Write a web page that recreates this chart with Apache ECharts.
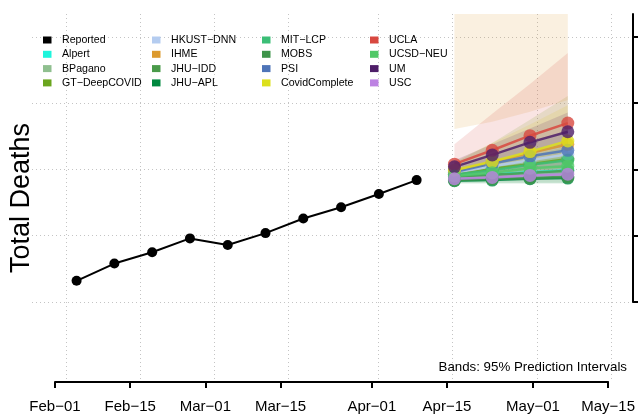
<!DOCTYPE html>
<html><head><meta charset="utf-8">
<script src="https://cdn.jsdelivr.net/npm/echarts@6/dist/echarts.min.js"></script>
<style>html,body{margin:0;padding:0;background:#fff}#c{width:638px;height:418px}</style>
</head><body><div id="c"></div>
<script>
// ---------- data ----------
const reportedDates = ['2022-02-05','2022-02-12','2022-02-19','2022-02-26','2022-03-05','2022-03-12','2022-03-19','2022-03-26','2022-04-02','2022-04-09'];
const reportedValues = [232, 258, 275, 296, 286, 304, 326, 343, 363, 384];
const forecastDates = ['2022-04-16','2022-04-23','2022-04-30','2022-05-07'];

const xTickDates = ['2022-02-01','2022-02-15','2022-03-01','2022-03-15','2022-04-01','2022-04-15','2022-05-01','2022-05-15'];
const xTickLabels = ['Feb\u221201','Feb\u221215','Mar\u221201','Mar\u221215','Apr\u221201','Apr\u221215','May\u221201','May\u221215'];
const yTickValues = [200, 300, 400, 500, 600];

const modelNames = ['Alpert','BPagano','GT\u2212DeepCOVID','HKUST\u2212DNN','IHME','JHU\u2212IDD','JHU\u2212APL','MIT\u2212LCP','MOBS','PSI','CovidComplete','UCLA','UCSD\u2212NEU','UM','USC'];
const modelColors = ['#1EF5DC','#8FBF8F','#6AA51E','#B4CCF0','#DC9A2E','#4A9A4A','#00883F','#3BBE76','#3E944A','#4E74B8','#DCE01C','#D84840','#52C868','#4E1E68','#BD82E2'];

const meanAlpert = [390, 393, 396, 399];
const lowerAlpert = [385, 387, 389, 391];
const upperAlpert = [395, 400, 404, 408];
const meanBPagano = [393, 402, 410, 417];
const lowerBPagano = [386, 390, 393, 396];
const upperBPagano = [400, 414, 428, 442];
const meanGT = [393, 401, 408, 416];
const lowerGT = [386, 389, 391, 393];
const upperGT = [410, 440, 475, 511];
const meanHKUST = [395, 405, 414, 423];
const lowerHKUST = [385, 388, 390, 392];
const upperHKUST = [405, 422, 440, 458];
const meanIHME = [398, 411, 425, 438];
const lowerIHME = [461, 472, 487, 505];
const upperIHME = [700, 780, 860, 940];
const meanJHUIDD = [389, 392, 395, 398];
const lowerJHUIDD = [383, 384, 385, 386];
const upperJHUIDD = [396, 402, 408, 414];
const meanJHUAPL = [383, 384, 386, 387];
const lowerJHUAPL = [379, 379, 379, 379];
const upperJHUAPL = [387, 390, 393, 396];
const meanMITLCP = [392, 399, 407, 414];
const lowerMITLCP = [386, 389, 392, 394];
const upperMITLCP = [398, 410, 422, 434];
const meanMOBS = [384, 386, 387, 389];
const lowerMOBS = [380, 380, 380, 380];
const upperMOBS = [388, 392, 395, 398];
const meanPSI = [396, 409, 420, 429];
const lowerPSI = [388, 396, 402, 406];
const upperPSI = [404, 422, 440, 456];
const meanCovidComplete = [399, 412, 427, 443];
const lowerCovidComplete = [390, 400, 410, 418];
const upperCovidComplete = [412, 440, 468, 497];
const meanUCLA = [408, 429, 451, 470];
const lowerUCLA = [381, 387, 393, 399];
const upperUCLA = [438, 484, 529, 576];
const meanUCSDNEU = [390, 395, 402, 405];
const lowerUCSDNEU = [384, 386, 388, 390];
const upperUCSDNEU = [396, 405, 414, 422];
const meanUM = [404, 422, 441, 457];
const lowerUM = [396, 410, 424, 436];
const upperUM = [414, 438, 462, 486];
const meanUSC = [386, 388, 391, 393];
const lowerUSC = [382, 383, 384, 385];
const upperUSC = [391, 394, 398, 402];

const modelMeans = [meanAlpert, meanBPagano, meanGT, meanHKUST, meanIHME, meanJHUIDD, meanJHUAPL, meanMITLCP, meanMOBS, meanPSI, meanCovidComplete, meanUCLA, meanUCSDNEU, meanUM, meanUSC];
const modelLowers = [lowerAlpert, lowerBPagano, lowerGT, lowerHKUST, lowerIHME, lowerJHUIDD, lowerJHUAPL, lowerMITLCP, lowerMOBS, lowerPSI, lowerCovidComplete, lowerUCLA, lowerUCSDNEU, lowerUM, lowerUSC];
const modelUppers = [upperAlpert, upperBPagano, upperGT, upperHKUST, upperIHME, upperJHUIDD, upperJHUAPL, upperMITLCP, upperMOBS, upperPSI, upperCovidComplete, upperUCLA, upperUCSDNEU, upperUM, upperUSC];

// ---------- build ----------
const DAY = 86400000;
function ts(s){ const p = s.split('-').map(Number); return Date.UTC(p[0], p[1]-1, p[2]); }
const xFirst = ts(xTickDates[0]), xLast = ts(xTickDates[xTickDates.length-1]);
const xMin = xFirst - 4.26*DAY, xMax = xLast + 4.08*DAY;
const yMin = 200, yMax = 634.7;
const FONT = '"Liberation Sans", Arial, Helvetica, sans-serif';
const xTickTs = xTickDates.map(ts);
const labelMap = {}; xTickTs.forEach((t,i)=>{ labelMap[t] = xTickLabels[i]; });
const dotted = {show:true, lineStyle:{color:'#c4c4c4', width:1, type:[1,3]}};

const series = [];
modelNames.forEach((name, m) => {
  const lo = modelLowers[m], up = modelUppers[m];
  series.push({
    type:'custom', name: name + ' band', xAxisIndex:0, yAxisIndex:0, silent:true, z:1,
    data: forecastDates.map((d,i)=>[ts(d), lo[i], up[i]]),
    encode:{x:0, y:[1,2]},
    renderItem: function(params, api){
      if (params.dataIndex !== 0) return null;
      const pts = [];
      forecastDates.forEach((d,i)=>{ pts.push(api.coord([ts(d), up[i]])); });
      for (let i = forecastDates.length-1; i >= 0; i--) pts.push(api.coord([ts(forecastDates[i]), lo[i]]));
      const cs = params.coordSys;
      const clipped = echarts.graphic.clipPointsByRect(pts, {x:cs.x, y:cs.y, width:cs.width, height:cs.height});
      return {type:'polygon', shape:{points:clipped}, style:{fill:modelColors[m], opacity:0.15}};
    }
  });
});
series.push({
  type:'line', name:'Reported', xAxisIndex:0, yAxisIndex:0, z:3,
  data: reportedDates.map((d,i)=>[ts(d), reportedValues[i]]),
  symbol:'circle', symbolSize:10, showSymbol:true,
  lineStyle:{color:'#000', width:2}, itemStyle:{color:'#000'}
});
modelNames.forEach((name, m) => {
  series.push({
    type:'line', name:name, xAxisIndex:0, yAxisIndex:0, z:3,
    data: forecastDates.map((d,i)=>[ts(d), modelMeans[m][i]]),
    symbol:'circle', symbolSize:13,
    lineStyle:{color:modelColors[m], width:2.5, opacity:0.85},
    itemStyle:{color:modelColors[m], opacity:0.8}
  });
});

const legendNames = ['Reported'].concat(modelNames);
const legendColors = ['#000000'].concat(modelColors);
const legendLefts = [43, 152, 262, 370];
const legends = legendLefts.map((left, c) => ({
  orient:'vertical', left:left, top:33, padding:0, itemWidth:8.5, itemHeight:7, itemGap:0.3, icon:'rect',
  selectedMode:false,
  textStyle:{fontFamily:FONT, fontSize:10.6, color:'#000', lineHeight:14, padding:[0,0,0,5.5]},
  data: legendNames.slice(c*4, c*4+4).map((n,k)=>({name:n, itemStyle:{color:legendColors[c*4+k], opacity:1}}))
}));

const option = {
  animation:false,
  backgroundColor:'#fff',
  title:{text:'Bands: 95% Prediction Intervals', right:11, top:361, padding:0, textStyle:{fontFamily:FONT, fontSize:13.3, fontWeight:'normal', color:'#000'}},
  legend: legends,
  grid:[
    {left:32, right:5, top:14, bottom:116},
    {left:32, right:5, top:14, bottom:36},
    {left:55, right:27, top:14, bottom:36}
  ],
  xAxis:[
    {gridIndex:0, type:'value', min:xMin, max:xMax, show:false},
    {gridIndex:1, type:'value', min:xMin, max:xMax, axisLine:{show:false}, axisTick:{show:false, customValues:xTickTs}, axisLabel:{show:false}, splitLine:dotted},
    {gridIndex:2, type:'value', min:xFirst, max:xLast,
     axisLine:{show:true, lineStyle:{color:'#000', width:2}},
     axisTick:{show:true, length:6, customValues:xTickTs, lineStyle:{color:'#000', width:2}},
     axisLabel:{show:true, customValues:xTickTs, margin:17, fontFamily:FONT, fontSize:15, color:'#000', formatter:(v)=>labelMap[v] || ''},
     splitLine:{show:false}}
  ],
  yAxis:[
    {gridIndex:0, type:'value', position:'right', min:yMin, max:yMax,
     axisLine:{show:true, lineStyle:{color:'#000', width:2}},
     axisTick:{show:true, length:6, customValues:yTickValues, lineStyle:{color:'#000', width:2}},
     axisLabel:{show:false}, splitLine:dotted},
    {gridIndex:1, type:'value', position:'left', min:0, max:1, name:'Total Deaths', nameLocation:'middle', nameRotate:90, nameGap:9,
     nameTextStyle:{fontFamily:FONT, fontSize:27, color:'#000'},
     axisLine:{show:false}, axisTick:{show:false}, axisLabel:{show:false}, splitLine:{show:false}},
    {gridIndex:2, type:'value', min:0, max:1, show:false}
  ],
  series: series
};
const chart = echarts.init(document.getElementById('c'), null, {renderer:'canvas'});
chart.setOption(option);
</script></body></html>
